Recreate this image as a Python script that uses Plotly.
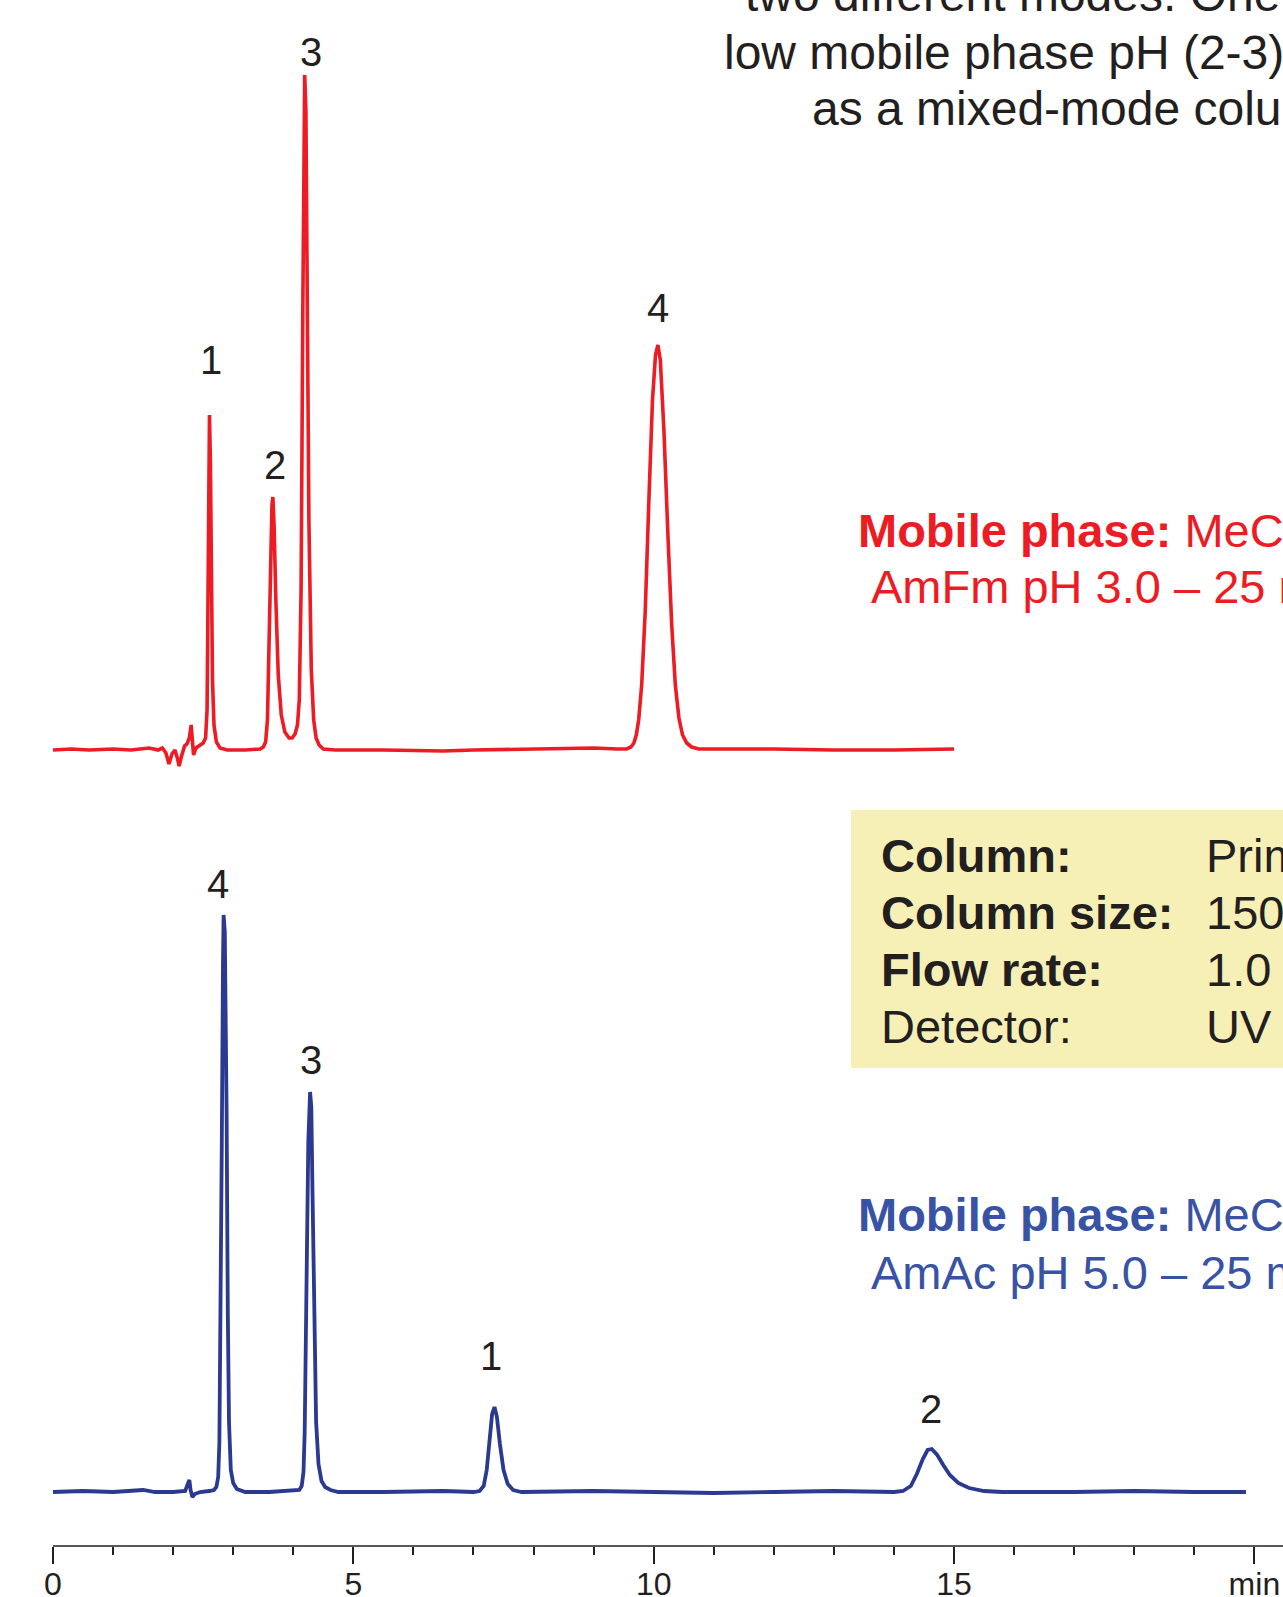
import plotly.graph_objects as go

# ---------------- data ----------------
# Red chromatogram: AmFm pH 3.0 (time in min, signal in arbitrary units)
red_time = [0.00, 0.30, 0.60, 1.00, 1.30, 1.60, 1.75, 1.82, 1.88, 1.93, 1.98, 2.03, 2.07, 2.10,
            2.14, 2.19, 2.23, 2.27, 2.30, 2.32, 2.34, 2.38, 2.45, 2.50, 2.54, 2.565, 2.58, 2.595,
            2.605, 2.62, 2.635, 2.655, 2.68, 2.72, 2.78, 2.90, 3.20, 3.45, 3.50, 3.54, 3.57, 3.60,
            3.625, 3.645, 3.66, 3.68, 3.71, 3.75, 3.80, 3.86, 3.93, 3.98, 4.03, 4.07, 4.10, 4.13,
            4.16, 4.18, 4.19, 4.21, 4.23, 4.26, 4.30, 4.34, 4.38, 4.43, 4.50, 4.70, 5.50, 6.50,
            7.00, 8.00, 9.00, 9.40, 9.55, 9.62, 9.67, 9.71, 9.75, 9.80, 9.86, 9.92, 9.98, 10.03,
            10.07, 10.11, 10.17, 10.24, 10.30, 10.36, 10.42, 10.48, 10.55, 10.63, 10.75, 12.00,
            13.00, 14.00, 15.00]
red_signal = [0, 1, 0, 1, 0, 2, 0, 2, -3, -14, -4, 0, -8, -16,
              -6, 4, 6, 12, 25, 2, -5, 2, 5, 7, 12, 40, 150, 300,
              335, 290, 170, 70, 25, 8, 2, 0, 0, 1, 3, 8, 30, 110,
              200, 245, 253, 225, 150, 75, 35, 18, 12, 12, 16, 25, 50, 160,
              450, 640, 675, 640, 450, 230, 80, 30, 12, 5, 1, 0, 0, -1,
              0, 1, 2, 1, 1, 3, 7, 15, 30, 65, 140, 250, 350, 395,
              405, 390, 320, 210, 125, 65, 32, 15, 7, 3, 1, 1,
              0, 0, 1]

# Blue chromatogram: AmAc pH 5.0
blue_time = [0.00, 0.50, 1.00, 1.50, 1.70, 2.00, 2.20, 2.25, 2.27, 2.29, 2.32, 2.36, 2.45, 2.60,
             2.68, 2.72, 2.75, 2.77, 2.79, 2.81, 2.83, 2.84, 2.86, 2.87, 2.89, 2.91, 2.93, 2.96,
             3.00, 3.06, 3.20, 3.60, 4.00, 4.10, 4.14, 4.17, 4.19, 4.22, 4.25, 4.28, 4.30, 4.32,
             4.35, 4.38, 4.42, 4.47, 4.53, 4.62, 4.75, 5.50, 6.50, 7.00, 7.10, 7.17, 7.22, 7.27,
             7.31, 7.35, 7.39, 7.44, 7.50, 7.57, 7.66, 7.80, 9.00, 10.00, 11.00, 12.00, 13.00,
             14.00, 14.15, 14.28, 14.38, 14.48, 14.56, 14.63, 14.72, 14.82, 14.93, 15.07, 15.25,
             15.50, 15.80, 17.00, 18.00, 19.00, 19.86]
blue_signal = [0, 1, 0, 2, 0, 0, 1, 8, 12, 2, -5, -2, 0, 1,
               2, 5, 15, 50, 160, 350, 530, 577, 560, 520, 380, 180, 70, 22,
               9, 3, 0, 0, 1, 2, 6, 20, 60, 200, 350, 400, 385, 300,
               160, 70, 28, 11, 5, 2, 0, 0, 1, 0, 1, 6, 22, 55,
               78, 85, 75, 48, 22, 8, 2, 0, 1, 0, -1, 0, 1,
               0, 1, 6, 18, 33, 42, 43, 37, 27, 17, 9, 4,
               1, 0, 0, 1, 0, 0]

# Peak labels (compound numbers) at their apex times / heights
red_peak_names = ["1", "2", "3", "4"]
red_peak_times = [2.605, 3.66, 4.19, 10.07]
red_peak_heights = [335, 253, 675, 405]
blue_peak_names = ["4", "3", "1", "2"]
blue_peak_times = [2.84, 4.28, 7.35, 14.63]
blue_peak_heights = [577, 400, 85, 43]

tick_values = [0, 5, 10, 15, 20]
tick_labels = ["0", "5", "10", "15", "min"]

# ---------------- styling ----------------
W, H = 1283, 1597
BOTTOM = 51                      # px below the time axis
PLOT_H = H - BOTTOM
RED = "#ED1C24"
NAVY = "#2B3990"
BLUE_TXT = "#3953A4"
INK = "#231F20"
FONT = "Liberation Sans, Arial, Helvetica, sans-serif"
PX_PER_MIN = 60.07
X0 = 53                          # px position of t = 0


def px(x):
    return x / W


def py(y):
    return (PLOT_H - y) / PLOT_H


fig = go.Figure()
fig.add_trace(go.Scatter(x=red_time, y=red_signal, mode="lines", yaxis="y2",
                         line=dict(color=RED, width=3.6), hoverinfo="skip"))
fig.add_trace(go.Scatter(x=blue_time, y=blue_signal, mode="lines", yaxis="y",
                         line=dict(color=NAVY, width=3.8), hoverinfo="skip"))

annotations = []

# peak number labels
red_offsets = [(1.5, 55), (2.4, 32), (6, 23), (0, 37)]
blue_offsets = [(-5.5, 31), (1, 32), (-4, 51), (-1, 40)]
for names, times, heights, offs, ax in (
        (red_peak_names, red_peak_times, red_peak_heights, red_offsets, "y2"),
        (blue_peak_names, blue_peak_times, blue_peak_heights, blue_offsets, "y")):
    for n, t, h, (dx, dy) in zip(names, times, heights, offs):
        annotations.append(dict(x=t, y=h, xref="x", yref=ax, text=n, showarrow=False,
                                xshift=dx, yshift=dy, xanchor="center", yanchor="middle",
                                font=dict(family=FONT, size=40, color=INK)))

# top description (cut off by the page edges)
top_lines = [("two different modes. One at", 743, -5),
             ("low mobile phase pH (2-3) it", 722, 52),
             ("as a mixed-mode column", 810, 108)]
for txt, x, y in top_lines:
    annotations.append(dict(x=px(x), y=py(y), xref="paper", yref="paper", text=txt,
                            showarrow=False, xanchor="left", yanchor="middle",
                            font=dict(family=FONT, size=48, color=INK)))

# mobile phase captions
captions = [("<b>Mobile phase:</b> MeCN – 40%", 856, 530, RED),
            ("AmFm pH 3.0 – 25 mM", 869, 587, RED),
            ("<b>Mobile phase:</b> MeCN – 40%", 856, 1214, BLUE_TXT),
            ("AmAc pH 5.0 – 25 mM", 869, 1272, BLUE_TXT)]
for txt, x, y, c in captions:
    annotations.append(dict(x=px(x), y=py(y), xref="paper", yref="paper", text=txt,
                            showarrow=False, xanchor="left", yanchor="middle",
                            font=dict(family=FONT, size=47, color=c)))

# conditions table
table_rows = [("<b>Column:</b>", "Primesep 100"),
              ("<b>Column size:</b>", "150 x 4.6 mm"),
              ("<b>Flow rate:</b>", "1.0 ml/min"),
              ("Detector:", "UV 250 nm")]
row_y = [855, 912, 969, 1026]
for (lab, val), y in zip(table_rows, row_y):
    annotations.append(dict(x=px(879), y=py(y), xref="paper", yref="paper", text=lab,
                            showarrow=False, xanchor="left", yanchor="middle",
                            font=dict(family=FONT, size=47, color=INK)))
    annotations.append(dict(x=px(1204), y=py(y), xref="paper", yref="paper", text=val,
                            showarrow=False, xanchor="left", yanchor="middle",
                            font=dict(family=FONT, size=47, color=INK)))

x_lo = -X0 / PX_PER_MIN
x_hi = x_lo + W / PX_PER_MIN

shapes = [
    dict(type="rect", xref="paper", yref="paper", x0=px(851), x1=1.05,
         y0=py(1068), y1=py(810), fillcolor="#F6F0B6", line=dict(width=0), layer="below"),
    dict(type="line", xref="x", yref="paper", x0=0, x1=x_hi, y0=0, y1=0,
         line=dict(color=INK, width=1.6)),
]

fig.update_layout(
    width=W, height=H,
    margin=dict(l=0, r=0, t=0, b=BOTTOM, pad=0, autoexpand=False),
    paper_bgcolor="white", plot_bgcolor="white",
    showlegend=False,
    annotations=annotations,
    shapes=shapes,
    xaxis=dict(range=[x_lo, x_hi], showgrid=False, zeroline=False, showline=False,
               automargin=False,
               tickmode="array", tickvals=tick_values, ticktext=tick_labels,
               ticks="outside", ticklen=17, tickwidth=1.5, tickcolor=INK,
               ticklabelstandoff=-7,
               tickfont=dict(family=FONT, size=32, color=INK),
               minor=dict(ticks="outside", dtick=1, tick0=0, ticklen=8, tickwidth=1.5,
                          tickcolor=INK, showgrid=False),
               fixedrange=True),
    yaxis=dict(range=[-54, PLOT_H - 54], visible=False, fixedrange=True, automargin=False),
    yaxis2=dict(range=[-796, PLOT_H - 796], overlaying="y", visible=False, fixedrange=True,
                automargin=False),
)

fig.write_html("out.html")
